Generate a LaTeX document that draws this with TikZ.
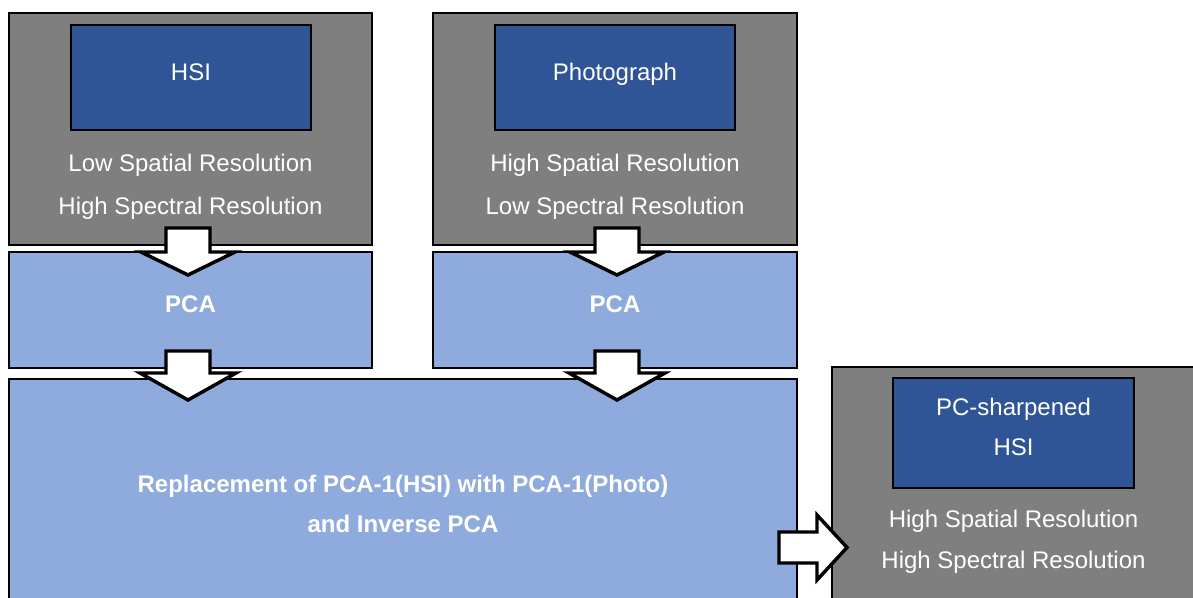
\documentclass[tikz,border=0pt]{standalone}
\usepackage{fontspec}
\setmainfont{Liberation Sans}
\usetikzlibrary{calc}
\definecolor{boxgray}{HTML}{7F7F7F}
\definecolor{darkblue}{HTML}{2F5597}
\definecolor{lightblue}{HTML}{8FAADC}
\begin{document}
\begin{tikzpicture}[x=0.75pt,y=-0.75pt,
  graybox/.style={draw=black,line width=1.5pt,fill=boxgray,rectangle,inner sep=0pt},
  bluebox/.style={draw=black,line width=1.8pt,fill=darkblue,rectangle,inner sep=0pt},
  lightbox/.style={draw=black,line width=1.5pt,fill=lightblue,rectangle,inner sep=0pt},
  lbl/.style={text=white,font=\fontsize{18}{21}\selectfont,anchor=base,inner sep=0pt},
  blbl/.style={text=white,font=\fontsize{18}{21}\selectfont\bfseries,anchor=base,inner sep=0pt},
  blockarrow/.style={draw=black,fill=white,line width=2.6pt,line join=miter}]
\useasboundingbox (0,0) rectangle (1193,597);
\clip (0,0) rectangle (1193,597);
% top-left
\node[graybox,minimum width=272.25pt,minimum height=174pt] (A) at (190.5,129) {};
\node[bluebox,minimum width=180pt,minimum height=78.75pt] (hsi) at (191,77.5) {};
\node[lbl] (hsit) at (191,80.6) {HSI};
\node[lbl] (a1) at (190.5,171.6) {Low Spatial Resolution};
\node[lbl] (a2) at (190.5,214.6) {High Spectral Resolution};
% top-right
\node[graybox,minimum width=273pt,minimum height=174pt] (B) at (615,129) {};
\node[bluebox,minimum width=180pt,minimum height=78.75pt] (photo) at (615,77.5) {};
\node[lbl] (photot) at (615,80.6) {Photograph};
\node[lbl] (b1) at (615,171.6) {High Spatial Resolution};
\node[lbl] (b2) at (615,214.6) {Low Spectral Resolution};
% PCA boxes
\node[lightbox,minimum width=272.25pt,minimum height=87pt] (pcaA) at (190.5,310) {};
\node[blbl] (pcaAt) at (190.5,312.6) {PCA};
\node[lightbox,minimum width=273pt,minimum height=87pt] (pcaB) at (615,310) {};
\node[blbl] (pcaBt) at (615,312.6) {PCA};
% big box
\node[lightbox,minimum width=591pt,minimum height=173.25pt] (R) at (403,494.5) {};
\node[blbl] (r1) at (403,492.6) {Replacement of PCA-1(HSI) with PCA-1(Photo)};
\node[blbl] (r2) at (403,532.6) {and Inverse PCA};
% result box
\node[graybox,minimum width=283.5pt,minimum height=182.25pt] (C) at (1021,488.5) {};
\node[bluebox,minimum width=180.75pt,minimum height=82.5pt] (out) at (1013.5,433) {};
\node[lbl] (o1) at (1013.5,415.6) {PC-sharpened};
\node[lbl] (o2) at (1013.5,455.6) {HSI};
\node[lbl] (c1) at (1013.5,527.6) {High Spatial Resolution};
\node[lbl] (c2) at (1013.5,568.6) {High Spectral Resolution};
% down arrows
\foreach \cx/\nm in {188/dA,617/dB}{
  \coordinate (\nm1) at (\cx,228);
  \draw[blockarrow] ($(\nm1)+(-22,0)$) -- ++(44,0) -- ++(0,24) -- ++(25,0) -- ($(\nm1)+(0,47)$) -- ($(\nm1)+(-47,24)$) -- ++(25,0) -- cycle;
  \coordinate (\nm2) at (\cx,351);
  \draw[blockarrow] ($(\nm2)+(-22,0)$) -- ++(44,0) -- ++(0,22) -- ++(26,0) -- ($(\nm2)+(0,49)$) -- ($(\nm2)+(-48,22)$) -- ++(26,0) -- cycle;
}
% right arrow
\coordinate (ra) at (779,547.5);
\draw[blockarrow] ($(ra)+(0,-15.5)$) -- ++(38,0) -- ++(0,-17) -- ($(ra)+(68,0)$) -- ($(ra)+(38,32.5)$) -- ++(0,-17) -- ++(-38,0) -- cycle;
\end{tikzpicture}
\end{document}
